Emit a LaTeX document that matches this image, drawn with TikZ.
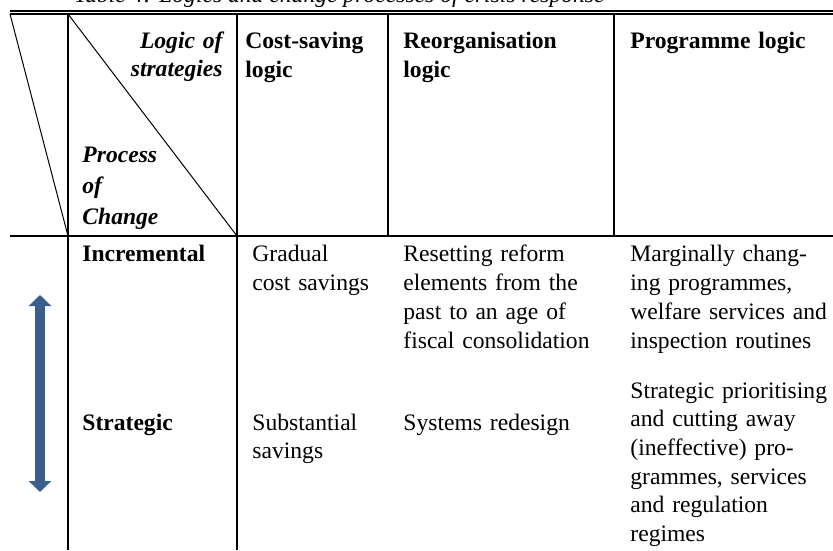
\documentclass[tikz,border=0pt]{standalone}
\usepackage{fontspec}
\setmainfont{Liberation Serif}
\usetikzlibrary{arrows.meta}
\definecolor{arrowblue}{RGB}{60,94,140}
\newcommand{\tabl}{10}
\newcommand{\tabr}{833}
\newcommand{\ruletopa}{11}
\newcommand{\ruletopb}{14}
\newcommand{\rulemid}{236}
\newcommand{\tabbot}{550}
\newcommand{\colax}{68}
\newcommand{\colbx}{237}
\newcommand{\colcx}{388}
\newcommand{\coldx}{614}
\newcommand{\rowinc}{262}
\newcommand{\rowstr}{430}
\newcommand{\cellfont}{\fontsize{11.8}{14.35}\selectfont}
\newcommand{\cornerfont}{\fontsize{11.8}{14}\selectfont\bfseries\itshape}
\newcommand{\procfont}{\fontsize{11.8}{15.5}\selectfont\bfseries\itshape}

\begin{document}
\begin{tikzpicture}[x=0.5pt,y=-0.5pt,
    rule/.style={line width=1pt},
    toprule/.style={line width=0.7pt},
    thinrule/.style={line width=0.5pt},
    cell/.style={inner sep=0pt,anchor=base west,align=left,
      text width=105pt,font=\cellfont},
    headcell/.style={cell,font=\cellfont\bfseries},
    changearrow/.style={line width=4.7pt,draw=arrowblue,
      {Triangle[width=11pt,length=5.5pt]}-{Triangle[width=11pt,length=5.5pt]}}]
    \useasboundingbox (0,0) rectangle (833,550);
    % caption, cut by the page
    \node (caption) at (605,3) [anchor=base east,inner sep=0pt,
      font=\cellfont\itshape] {Table 4: Logics and change processes of crisis response};
    % rules
    \draw[toprule] (\tabl,\ruletopa) -- (\tabr,\ruletopa);
    \draw[toprule] (\tabl,\ruletopb) -- (\tabr,\ruletopb);
    \draw[rule] (\tabl,\rulemid) -- (\tabr,\rulemid);
    \draw[rule] (\colax,\ruletopb) -- (\colax,\tabbot);
    \draw[rule] (\colbx,\ruletopb) -- (\colbx,\tabbot);
    \draw[rule] (\colcx,\ruletopb) -- (\colcx,\rulemid);
    \draw[rule] (\coldx,\ruletopb) -- (\coldx,\rulemid);
    % slanted corner lines
    \draw[thinrule] (\tabl,\ruletopb) -- (\colax,\rulemid);
    \draw[thinrule] (\colax,\ruletopb) -- (\colbx,\rulemid);

    % header part
    \node (hdlogic) at (223,49) [cell,anchor=base east,align=right,
      text width=80pt,font=\cornerfont] {Logic of\\strategies};
    \node (hdproc) at (82,163) [cell,font=\procfont] {Process\\of\\Change};
    \node (hdcost) at (245,49) [headcell] {Cost-saving\\logic};
    \node (hdreorg) at (403,49) [headcell] {Reorganisation\\logic};
    \node (hdprog) at (630,49) [headcell] {Programme logic};

    % incremental row
    \node (incname) at (82,\rowinc) [headcell] {Incremental};
    \node (inccost) at (252,\rowinc) [cell] {Gradual\\cost savings};
    \node (increorg) at (403,\rowinc) [cell]
      {Resetting reform\\elements from the\\past to an age of\\fiscal consolidation};
    \node (incprog) at (630,\rowinc) [cell]
      {Marginally chang-\\ing programmes,\\welfare services and\\inspection routines};

    % strategic row
    \node (strname) at (82,\rowstr) [headcell] {Strategic};
    \node (strcost) at (252,\rowstr) [cell] {Substantial\\savings};
    \node (strreorg) at (403,\rowstr) [cell] {Systems redesign};
    \node (strprog) at (630,398) [cell]
      {Strategic prioritising\\and cutting away\\(ineffective) pro-\\grammes, services\\and regulation\\regimes};

    % arrow between the two processes
    \coordinate (arrtop) at (40,295);
    \coordinate (arrbot) at (40,492);
    \draw[changearrow] (arrtop) -- (arrbot);
  \end{tikzpicture}
\end{document}
